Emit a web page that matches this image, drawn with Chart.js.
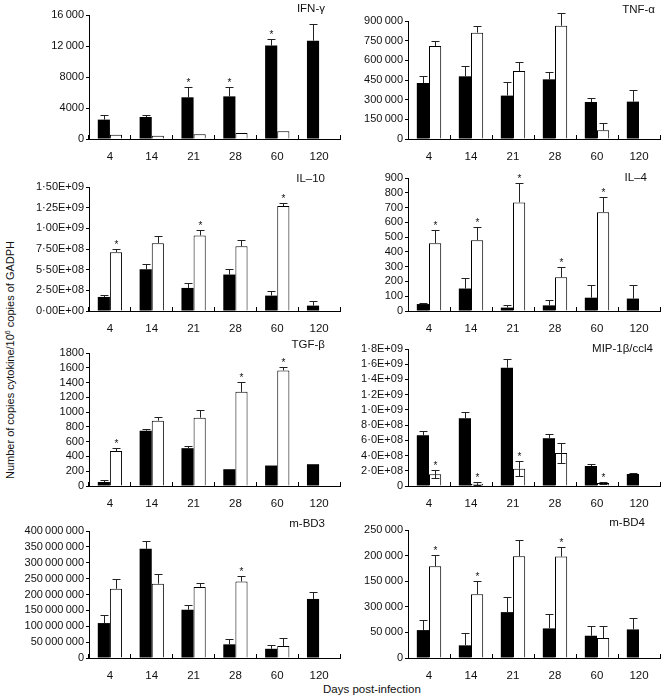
<!DOCTYPE html>
<html>
<head>
<meta charset="utf-8">
<script src="https://cdn.jsdelivr.net/npm/chart.js@4.4.1/dist/chart.umd.min.js"></script>
<style>
body { margin: 0; background: #fff; font-family: "Liberation Sans", Arial, sans-serif; color: #111; }
#wrap { position: relative; width: 667px; height: 700px; overflow: hidden; }
#wrap canvas { position: absolute; }
.ttl { position: absolute; font-size: 11.5px; white-space: nowrap; transform: translate(-100%, -50%); }
#ytitle { position: absolute; left: 10px; top: 360px; font-size: 11px; white-space: nowrap;
          transform: translate(-50%, -50%) rotate(-90deg); }
#ytitle sup { font-size: 7px; }
#xtitle { position: absolute; left: 323px; top: 683px; font-size: 11.5px; white-space: nowrap; }
</style>
</head>
<body>
<div id="wrap">
  <div id="ytitle">Number of copies cytokine/10<sup>6</sup> copies of GADPH</div>
  <div id="xtitle">Days post-infection</div>
</div>
<script>
// Days post-infection (x categories)
const days = ['4', '14', '21', '28', '60', '120'];

// IFN-γ
const ifnBlack = [2500, 2840, 5380, 5500, 12050, 12690];
const ifnBlackSd = [550, 300, 1290, 1250, 900, 2150];
const ifnWhite = [550, 430, 600, 770, 990, null];
const ifnWhiteSd = [0, 0, 0, 0, 0, 0];
const ifnStarsBlack = ['21', '28', '60'];
const ifnStarsWhite = [];
const ifnTicks = ['0', '4000', '8000', '12\u2009000', '16\u2009000'];

// TNF-α
const tnfBlack = [427000, 478000, 331000, 455000, 282000, 285000];
const tnfBlackSd = [56000, 81000, 101000, 53000, 33000, 91000];
const tnfWhite = [709000, 811000, 519000, 864000, 66000, null];
const tnfWhiteSd = [41000, 53000, 71000, 100000, 59000, 0];
const tnfStarsBlack = [];
const tnfStarsWhite = [];
const tnfTicks = ['0', '150\u2009000', '300\u2009000', '450\u2009000', '600\u2009000', '750\u2009000', '900\u2009000'];

// IL-10
const il10Black = [1.70e8, 5.05e8, 2.79e8, 4.41e8, 1.86e8, 0.65e8];
const il10BlackSd = [0.24e8, 0.65e8, 0.65e8, 0.68e8, 0.61e8, 0.52e8];
const il10White = [7.12e8, 8.21e8, 9.14e8, 7.84e8, 12.70e8, null];
const il10WhiteSd = [0.36e8, 0.85e8, 0.64e8, 0.69e8, 0.40e8, 0];
const il10StarsBlack = [];
const il10StarsWhite = ['4', '21', '60'];
const il10Ticks = ['0·00E+00', '2·50E+08', '5·50E+08', '7·50E+08', '1·00E+09', '1·25E+09', '1·50E+09'];

// IL-4
const il4Black = [47, 152, 23, 38, 90, 84];
const il4BlackSd = [5, 74, 20, 34, 89, 90];
const il4White = [459, 479, 735, 228, 669, null];
const il4WhiteSd = [88, 89, 129, 73, 100, 0];
const il4StarsBlack = [];
const il4StarsWhite = ['4', '14', '21', '28', '60'];
const il4Ticks = ['0', '100', '200', '300', '400', '500', '600', '700', '800', '900'];

// TGF-β
const tgfBlack = [54, 748, 512, 227, 277, 295];
const tgfBlackSd = [28, 18, 32, 0, 0, 0];
const tgfWhite = [472, 884, 925, 1274, 1564, null];
const tgfWhiteSd = [36, 45, 100, 131, 41, 0];
const tgfStarsBlack = [];
const tgfStarsWhite = ['4', '28', '60'];
const tgfTicks = ['0', '200', '400', '600', '800', '1000', '1200', '1400', '1600', '1800'];

// MIP-1β/ccl4
const mipBlack = [6.67e8, 8.91e8, 15.54e8, 6.28e8, 2.63e8, 1.58e8];
const mipBlackSd = [0.53e8, 0.79e8, 1.19e8, 0.61e8, 0.27e8, 0.09e8];
const mipWhite = [1.54e8, 0.31e8, 2.28e8, 4.35e8, 0.40e8, null];
const mipWhiteSd = [0.55e8, 0.17e8, 1.00e8, 1.30e8, 0.13e8, 0];
const mipStarsBlack = [];
const mipStarsWhite = ['4', '14', '21', '60'];
const mipTicks = ['0', '2·0E+08', '4·0E+08', '6·0E+08', '8·0E+08', '1·0E+09', '1·2E+09', '1·4E+09', '1·6E+09', '1·8E+09'];

// m-BD3
const bd3Black = [110e6, 344e6, 152e6, 43e6, 29e6, 186e6];
const bd3BlackSd = [25e6, 23e6, 16e6, 17e6, 13e6, 22e6];
const bd3White = [218e6, 234e6, 224e6, 241e6, 38e6, null];
const bd3WhiteSd = [32e6, 30e6, 12e6, 17e6, 25e6, 0];
const bd3StarsBlack = [];
const bd3StarsWhite = ['28'];
const bd3Ticks = ['0', '50\u2009000\u2009000', '100\u2009000\u2009000', '150\u2009000\u2009000', '200\u2009000\u2009000',
  '250\u2009000\u2009000', '300\u2009000\u2009000', '350\u2009000\u2009000', '400\u2009000\u2009000'];

// m-BD4
const bd4Black = [54500, 24700, 89600, 57800, 43500, 55800];
const bd4BlackSd = [19500, 24000, 29200, 27200, 18500, 22200];
const bd4White = [179000, 124700, 198700, 198000, 39000, null];
const bd4WhiteSd = [23000, 26300, 31200, 18000, 23000, 0];
const bd4StarsBlack = [];
const bd4StarsWhite = ['4', '14', '28'];
const bd4Ticks = ['0', '50\u2009000', '300\u2009000', '150\u2009000', '200\u2009000', '250\u2009000'];

// error bars + significance stars, drawn from the bar elements
const errorBars = {
    id: 'errorBars',
    afterDatasetsDraw(chart) {
        const ctx = chart.ctx;
        const y = chart.scales.y;
        ctx.save();
        ctx.strokeStyle = '#222';
        ctx.fillStyle = '#111';
        ctx.lineWidth = 1;
        ctx.font = '10px "Liberation Sans", Arial, sans-serif';
        ctx.textAlign = 'center';
        ctx.textBaseline = 'alphabetic';
        chart.data.datasets.forEach((ds, i) => {
            const meta = chart.getDatasetMeta(i);
            meta.data.forEach((bar, j) => {
                const v = ds.data[j];
                if (v == null) return;
                const sd = ds.sd[j] || 0;
                const x = Math.round(bar.x) + 0.5;
                const base = bar.y;
                const top = Math.round(y.getPixelForValue(v + sd)) + 0.5;
                ctx.beginPath();
                if (sd) {
                    ctx.moveTo(x, base);
                    ctx.lineTo(x, top);
                    ctx.moveTo(x - 4, top);
                    ctx.lineTo(x + 4, top);
                    if (ds.twoSided) {
                        const low = Math.round(y.getPixelForValue(Math.max(v - sd, 0))) + 0.5;
                        ctx.moveTo(x, base);
                        ctx.lineTo(x, low);
                        ctx.moveTo(x - 4, low);
                        ctx.lineTo(x + 4, low);
                    }
                }
                ctx.stroke();
                if (ds.stars.includes(days[j])) {
                    ctx.fillText('*', x, (sd ? top : base) - 2);
                }
            });
        });
        ctx.restore();
    }
};

function makePanel(p) {
    const wrap = document.getElementById('wrap');
    const canvasTop = Math.max(0, p.plotTop - 25);
    const height = p.plotBottom + 26 - canvasTop;
    const cv = document.createElement('canvas');
    cv.width = p.width;
    cv.height = height;
    cv.style.left = p.left + 'px';
    cv.style.top = canvasTop + 'px';
    wrap.appendChild(cv);

    const t = document.createElement('div');
    t.className = 'ttl';
    t.textContent = p.title;
    t.style.left = p.titleRight + 'px';
    t.style.top = p.titleY + 'px';
    wrap.appendChild(t);

    new Chart(cv.getContext('2d'), {
        type: 'bar',
        data: {
            labels: days,
            datasets: [{
                data: p.black, sd: p.blackSd, stars: p.starsBlack,
                backgroundColor: '#000', borderWidth: 0,
                categoryPercentage: 0.58, barPercentage: 1.0
            }, {
                data: p.white, sd: p.whiteSd, stars: p.starsWhite, twoSided: !!p.twoSided,
                backgroundColor: '#fff', borderColor: '#000', borderWidth: 1,
                categoryPercentage: 0.58, barPercentage: 1.0
            }]
        },
        options: {
            responsive: false,
            animation: false,
            events: [],
            layout: { padding: { top: p.plotTop - canvasTop, right: p.padRight, left: 0, bottom: 0 } },
            plugins: { legend: { display: false }, tooltip: { enabled: false } },
            scales: {
                x: {
                    afterFit: (s) => { s.height = 26; },
                    grid: { drawOnChartArea: false, drawTicks: true, tickLength: -4, color: '#000', offset: true },
                    border: { display: true, color: '#000', width: 1 },
                    ticks: { color: '#111', padding: 15, autoSkip: false, maxRotation: 0,
                             font: { family: '"Liberation Sans", Arial, sans-serif', size: 11.5 } }
                },
                y: {
                    min: 0, max: p.max,
                    afterFit: (s) => { s.width = p.yWidth; },
                    ticks: {
                        stepSize: p.step, color: '#111', padding: 2, autoSkip: false,
                        font: { family: '"Liberation Sans", Arial, sans-serif', size: 11 },
                        callback: (v, i) => p.ticks[i]
                    },
                    grid: { drawOnChartArea: false, drawTicks: true, tickLength: 3, color: '#000' },
                    border: { display: true, color: '#000', width: 1 }
                }
            }
        },
        plugins: [errorBars]
    });
}

const leftCol = { left: 0, width: 345, yWidth: 89, padRight: 5 };
const rightCol = { left: 330, width: 337, yWidth: 78, padRight: 7 };

makePanel({ ...leftCol, plotTop: 15, plotBottom: 139, max: 16000, step: 4000, ticks: ifnTicks,
    black: ifnBlack, blackSd: ifnBlackSd, white: ifnWhite, whiteSd: ifnWhiteSd,
    starsBlack: ifnStarsBlack, starsWhite: ifnStarsWhite, title: 'IFN-γ', titleRight: 325, titleY: 8 });
makePanel({ ...rightCol, plotTop: 21, plotBottom: 139, max: 900000, step: 150000, ticks: tnfTicks,
    black: tnfBlack, blackSd: tnfBlackSd, white: tnfWhite, whiteSd: tnfWhiteSd,
    starsBlack: tnfStarsBlack, starsWhite: tnfStarsWhite, title: 'TNF-α', titleRight: 655, titleY: 9 });
makePanel({ ...leftCol, plotTop: 187, plotBottom: 311, max: 1.5e9, step: 2.5e8, ticks: il10Ticks,
    black: il10Black, blackSd: il10BlackSd, white: il10White, whiteSd: il10WhiteSd,
    starsBlack: il10StarsBlack, starsWhite: il10StarsWhite, title: 'IL–10', titleRight: 325, titleY: 178 });
makePanel({ ...rightCol, plotTop: 178, plotBottom: 311, max: 900, step: 100, ticks: il4Ticks,
    black: il4Black, blackSd: il4BlackSd, white: il4White, whiteSd: il4WhiteSd,
    starsBlack: il4StarsBlack, starsWhite: il4StarsWhite, title: 'IL–4', titleRight: 647, titleY: 177 });
makePanel({ ...leftCol, plotTop: 353, plotBottom: 486, max: 1800, step: 200, ticks: tgfTicks,
    black: tgfBlack, blackSd: tgfBlackSd, white: tgfWhite, whiteSd: tgfWhiteSd,
    starsBlack: tgfStarsBlack, starsWhite: tgfStarsWhite, title: 'TGF-β', titleRight: 325, titleY: 344 });
makePanel({ ...rightCol, plotTop: 349, plotBottom: 486, max: 1.8e9, step: 2e8, ticks: mipTicks,
    black: mipBlack, blackSd: mipBlackSd, white: mipWhite, whiteSd: mipWhiteSd, twoSided: true,
    starsBlack: mipStarsBlack, starsWhite: mipStarsWhite, title: 'MIP-1β/ccl4', titleRight: 653, titleY: 348 });
makePanel({ ...leftCol, plotTop: 531, plotBottom: 658, max: 4e8, step: 5e7, ticks: bd3Ticks,
    black: bd3Black, blackSd: bd3BlackSd, white: bd3White, whiteSd: bd3WhiteSd,
    starsBlack: bd3StarsBlack, starsWhite: bd3StarsWhite, title: 'm-BD3', titleRight: 325, titleY: 523 });
makePanel({ ...rightCol, plotTop: 530, plotBottom: 658, max: 250000, step: 50000, ticks: bd4Ticks,
    black: bd4Black, blackSd: bd4BlackSd, white: bd4White, whiteSd: bd4WhiteSd,
    starsBlack: bd4StarsBlack, starsWhite: bd4StarsWhite, title: 'm-BD4', titleRight: 645, titleY: 522 });
</script>
</body>
</html>
